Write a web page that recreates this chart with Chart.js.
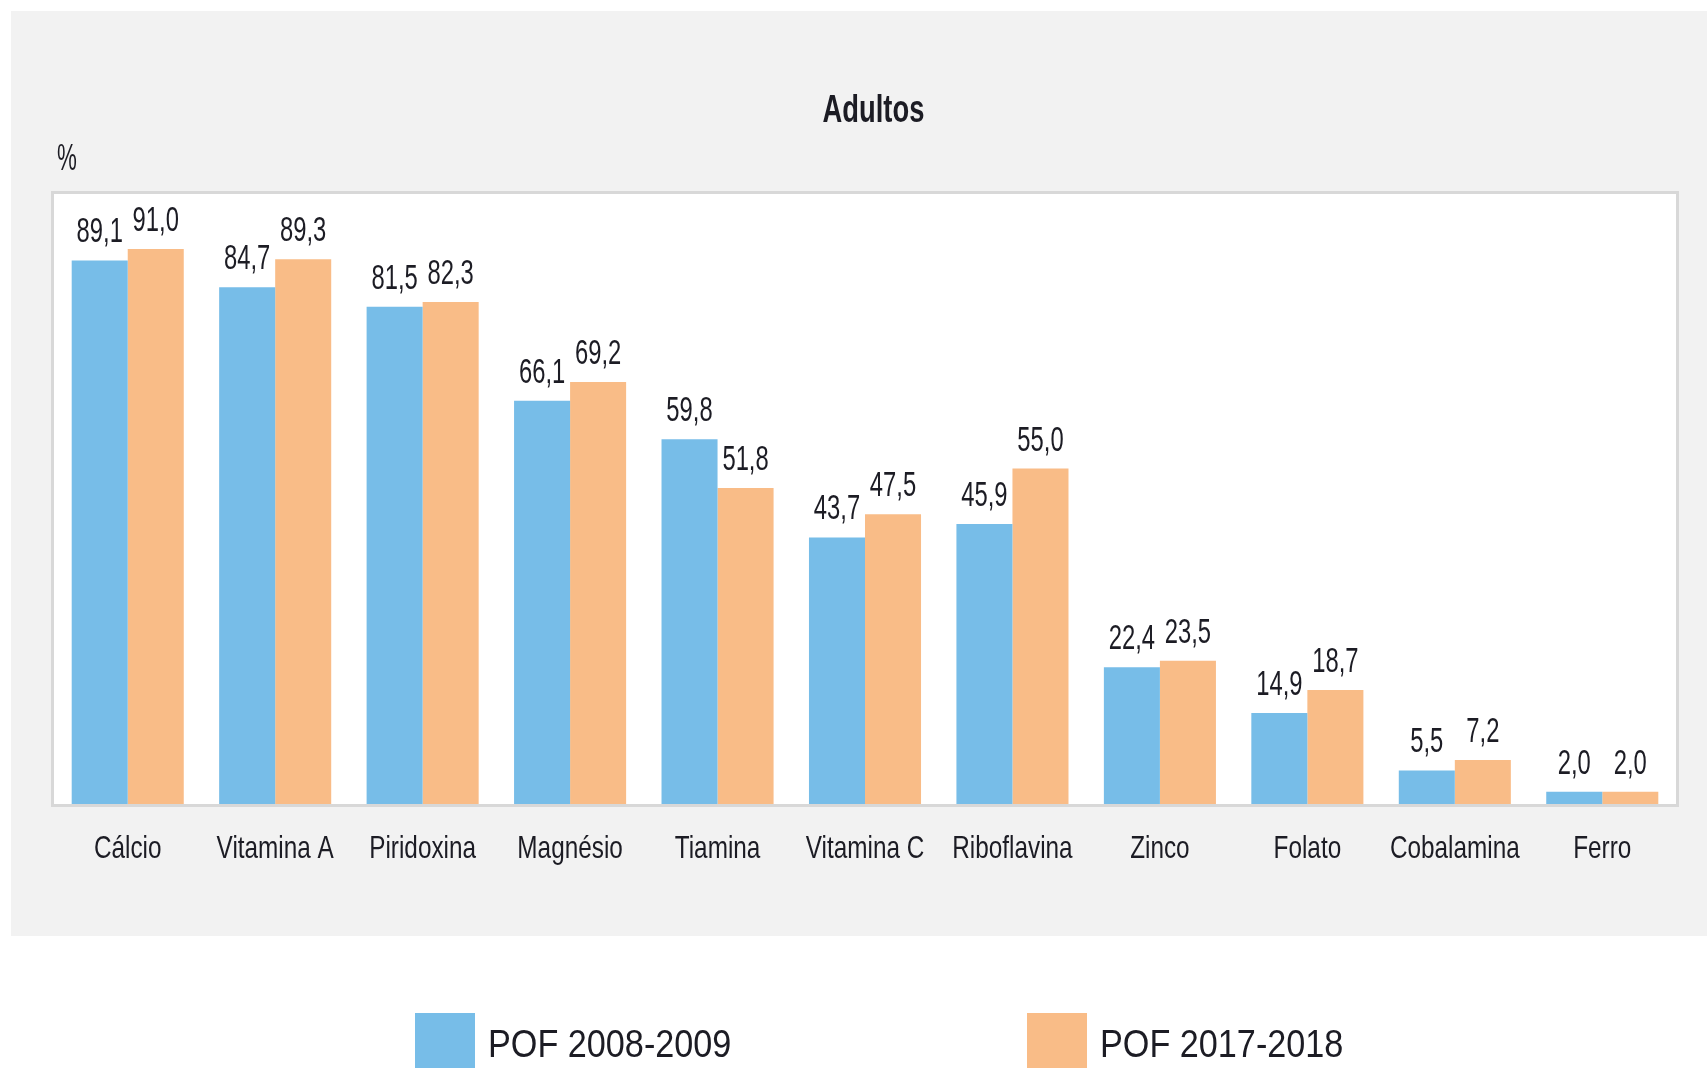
<!DOCTYPE html>
<html lang="pt">
<head>
<meta charset="utf-8">
<title>Adultos</title>
<script src="https://cdn.jsdelivr.net/npm/chart.js@4.4.1/dist/chart.umd.min.js"></script>
<style>
  html, body { margin: 0; padding: 0; background: #fff; overflow: hidden; }
  #wrap { position: relative; width: 1707px; height: 1068px; }
</style>
</head>
<body>
<div id="wrap"><canvas id="adultosChart"></canvas></div>
<script>
// data
const categories = ['Cálcio', 'Vitamina A', 'Piridoxina', 'Magnésio', 'Tiamina', 'Vitamina C',
  'Riboflavina', 'Zinco', 'Folato', 'Cobalamina', 'Ferro'];
const pof2008 = [89.1, 84.7, 81.5, 66.1, 59.8, 43.7, 45.9, 22.4, 14.9, 5.5, 2.0];
const pof2017 = [91.0, 89.3, 82.3, 69.2, 51.8, 47.5, 55.0, 23.5, 18.7, 7.2, 2.0];
const seriesNames = ['POF 2008-2009', 'POF 2017-2018'];
const chartTitle = 'Adultos';
const unitLabel = '%';

const FONT = "'Liberation Sans', Arial, sans-serif";
const TEXT = '#1c1c24';
const BLUE = '#77bde8';
const ORANGE = '#f9bc87';

// the source uses a narrow face, so text is squeezed horizontally
function narrowText(ctx, txt, x, y, sx, font, align) {
  ctx.save();
  ctx.font = font;
  ctx.textAlign = align || 'center';
  ctx.textBaseline = 'alphabetic';
  ctx.fillStyle = TEXT;
  ctx.translate(x, y);
  ctx.scale(sx, 1);
  ctx.fillText(txt, 0, 0);
  ctx.restore();
}

// gray panel behind title/plot/axis, white plot box with border
const panelBackground = {
  id: 'panelBackground',
  beforeDraw(chart) {
    const ctx = chart.ctx;
    ctx.save();
    ctx.fillStyle = '#ffffff';
    ctx.fillRect(0, 0, chart.width, chart.height);
    ctx.fillStyle = '#f2f2f2';
    ctx.fillRect(11, 11, chart.width - 11, 925);
    const a = chart.chartArea;
    ctx.fillStyle = '#ffffff';
    ctx.fillRect(a.left, a.top, a.right - a.left, a.bottom - a.top);
    ctx.strokeStyle = '#d8d8d8';
    ctx.lineWidth = 3;
    ctx.strokeRect(a.left - 1.5, a.top - 1.5, a.right - a.left + 3, a.bottom - a.top + 3);
    ctx.restore();
  }
};

// title, unit, category labels
const narrowTexts = {
  id: 'narrowTexts',
  afterDraw(chart) {
    const ctx = chart.ctx;
    const a = chart.chartArea;
    narrowText(ctx, chartTitle, chart.width / 2 + 20, 122, 0.72, 'bold 38px ' + FONT);
    narrowText(ctx, unitLabel, a.left + 3, 170, 0.62, '36px ' + FONT, 'left');
    const xs = chart.scales.x;
    chart.data.labels.forEach((lab, i) => {
      narrowText(ctx, lab, xs.getPixelForTick(i), a.bottom + 54, 0.76, '32px ' + FONT);
    });
  }
};

// value labels above each bar, comma decimal
const valueLabels = {
  id: 'valueLabels',
  afterDatasetsDraw(chart) {
    const ctx = chart.ctx;
    chart.data.datasets.forEach((ds, i) => {
      chart.getDatasetMeta(i).data.forEach((bar, j) => {
        const txt = ds.data[j].toFixed(1).replace('.', ',');
        narrowText(ctx, txt, bar.x, bar.y - 18, 0.68, '35px ' + FONT);
      });
    });
  }
};

// legend below the panel, two items spread apart
const wideLegend = {
  id: 'wideLegend',
  afterDraw(chart) {
    const ctx = chart.ctx;
    const startX = 415, step = 612, boxTop = 1013, box = 60;
    chart.data.datasets.forEach((ds, i) => {
      const x = startX + i * step;
      ctx.save();
      ctx.fillStyle = ds.backgroundColor;
      ctx.fillRect(x, boxTop, box, box);
      ctx.restore();
      narrowText(ctx, ds.label, x + box + 13, boxTop + 44, 0.9, '38px ' + FONT, 'left');
    });
  }
};

const ctx = document.getElementById('adultosChart').getContext('2d');
new Chart(ctx, {
  type: 'bar',
  data: {
    labels: categories,
    datasets: [
      { label: seriesNames[0], data: pof2008, backgroundColor: BLUE, borderWidth: 0 },
      { label: seriesNames[1], data: pof2017, backgroundColor: ORANGE, borderWidth: 0 }
    ]
  },
  options: {
    responsive: true,
    maintainAspectRatio: false,
    animation: false,
    layout: { padding: { top: 194, left: 54, right: 31, bottom: 256 } },
    datasets: { bar: { categoryPercentage: 0.76, barPercentage: 1.0 } },
    plugins: {
      legend: { display: false },
      tooltip: { enabled: false },
      title: { display: false }
    },
    scales: {
      x: {
        grid: { display: false },
        border: { display: false },
        ticks: { display: false }
      },
      y: {
        display: false,
        min: 0,
        max: 100
      }
    }
  },
  plugins: [panelBackground, valueLabels, narrowTexts, wideLegend]
});
</script>
</body>
</html>
